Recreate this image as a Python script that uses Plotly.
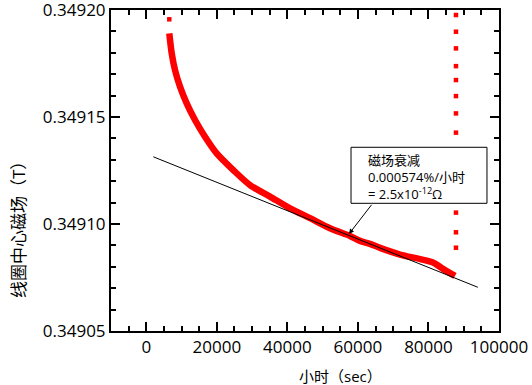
import plotly.graph_objects as go

# Main decay band
band_x = [6528, 7209, 8144, 9562, 11461, 13814, 16649, 19966, 24673, 29407,
          35077, 40747, 46418, 52088, 57758, 60592, 63428, 66263, 71933, 77603,
          81289, 84124, 87526]
band_y = [0.3491891, 0.3491798, 0.3491720, 0.3491642, 0.3491564, 0.3491486,
          0.3491408, 0.3491330, 0.3491252, 0.3491182, 0.3491128, 0.3491073,
          0.3491027, 0.3490980, 0.3490944, 0.3490921, 0.3490907, 0.3490888,
          0.3490857, 0.3490836, 0.3490820, 0.3490790, 0.3490757]

# Isolated points
top_x = [6528]
top_y = [0.3491957]
col_x = [87800] * 11
col_y = [0.3491977, 0.3491899, 0.3491821, 0.3491738, 0.3491673, 0.3491598,
         0.3491517, 0.3491427, 0.3491053, 0.3490961, 0.3490889]

# Linear fit
fit_x = [2000, 94000]
fit_y = [0.3491314, 0.3490704]

# Tick labels / tick positions
x_ticks = [0, 20000, 40000, 60000, 80000, 100000]
x_ticktext = ["0", "20000", "40000", "60000", "80000", "100000"]
y_ticks = [0.34905, 0.34910, 0.34915, 0.34920]
y_ticktext = ["0.34905", "0.34910", "0.34915", "0.34920"]
x_minor = [-5000, 5000, 10000, 15000, 25000, 30000, 35000, 45000, 50000, 55000,
           65000, 70000, 75000, 85000, 90000, 95000]
y_minor = [0.34906, 0.34907, 0.34908, 0.34909, 0.34911, 0.34912, 0.34913,
           0.34914, 0.34916, 0.34917, 0.34918, 0.34919]

font_fam = "Open Sans, Noto Sans CJK SC, sans-serif"
RED = "#ff0000"

fig = go.Figure()
fig.add_trace(go.Scatter(x=band_x, y=band_y, mode="lines",
                         line=dict(color=RED, width=6.5, shape="spline", smoothing=0.8),
                         hoverinfo="skip", showlegend=False))
fig.add_trace(go.Scatter(x=top_x + col_x, y=top_y + col_y, mode="markers",
                         marker=dict(color=RED, size=4.5, symbol="square"),
                         showlegend=False))
fig.add_trace(go.Scatter(x=fit_x, y=fit_y, mode="lines",
                         line=dict(color="black", width=1),
                         showlegend=False))

axis_common = dict(showline=True, linewidth=2, linecolor="black", mirror="ticks",
                   ticks="inside", tickwidth=2, tickcolor="black",
                   showgrid=False, zeroline=False, automargin=False,
                   ticklabeloverflow="allow",
                   tickfont=dict(family=font_fam, size=17, color="black"))
fig.update_xaxes(range=[-10000, 100000.5], tickmode="array", ticklen=9,
                 tickvals=x_ticks, ticktext=x_ticktext,
                 minor=dict(ticks="inside", ticklen=5, tickwidth=2, tickcolor="black",
                            tickmode="array", tickvals=x_minor),
                 **axis_common)
fig.update_yaxes(range=[0.34904995, 0.34920005], tickmode="array", ticklen=9,
                 tickvals=y_ticks, ticktext=y_ticktext,
                 minor=dict(ticks="inside", ticklen=5, tickwidth=2, tickcolor="black",
                            tickmode="array", tickvals=y_minor),
                 **axis_common)

# Annotation box
fig.add_shape(type="rect", xref="paper", yref="paper",
              x0=0.6186, x1=0.969, y0=0.3978, y1=0.5723,
              line=dict(color="black", width=1), fillcolor="white", layer="above")
box_lines = ["磁场衰减", "0.000574%/小时", "= 2.5x10<sup>-12</sup>Ω"]
box_line_px = [160, 176.7, 193.3]
for txt, py in zip(box_lines, box_line_px):
    fig.add_annotation(xref="paper", yref="paper", x=(366 - 111) / 388,
                       y=(331 - py) / 321, xanchor="left", yanchor="middle",
                       showarrow=False, text=txt,
                       font=dict(family=font_fam, size=13, color="black"))
fig.add_annotation(x=57470, y=0.3490953, xref="x", yref="y", text="",
                   showarrow=True, ax=23.7, ay=-30.7, arrowhead=2, arrowsize=1,
                   arrowwidth=1, arrowcolor="black")

# Axis titles as annotations
fig.add_annotation(xref="paper", yref="paper", x=(18 - 111) / 388, y=(331 - 226) / 321,
                   text="线圈中心磁场（T）", textangle=-90, showarrow=False,
                   xanchor="center", yanchor="middle",
                   font=dict(family=font_fam, size=17, color="black"))
fig.add_annotation(xref="paper", yref="paper", x=(340 - 111) / 388, y=(331 - 376) / 321,
                   text="小时（sec）", showarrow=False,
                   xanchor="center", yanchor="middle",
                   font=dict(family=font_fam, size=15, color="black"))

fig.update_layout(width=532, height=385, margin=dict(l=111, r=33, t=10, b=54),
                  plot_bgcolor="white", paper_bgcolor="white", template="none",
                  font=dict(family=font_fam))
fig.write_html("out.html", config={"displayModeBar": False},
               post_script="document.body.style.margin='0';document.body.style.overflow='hidden';")
